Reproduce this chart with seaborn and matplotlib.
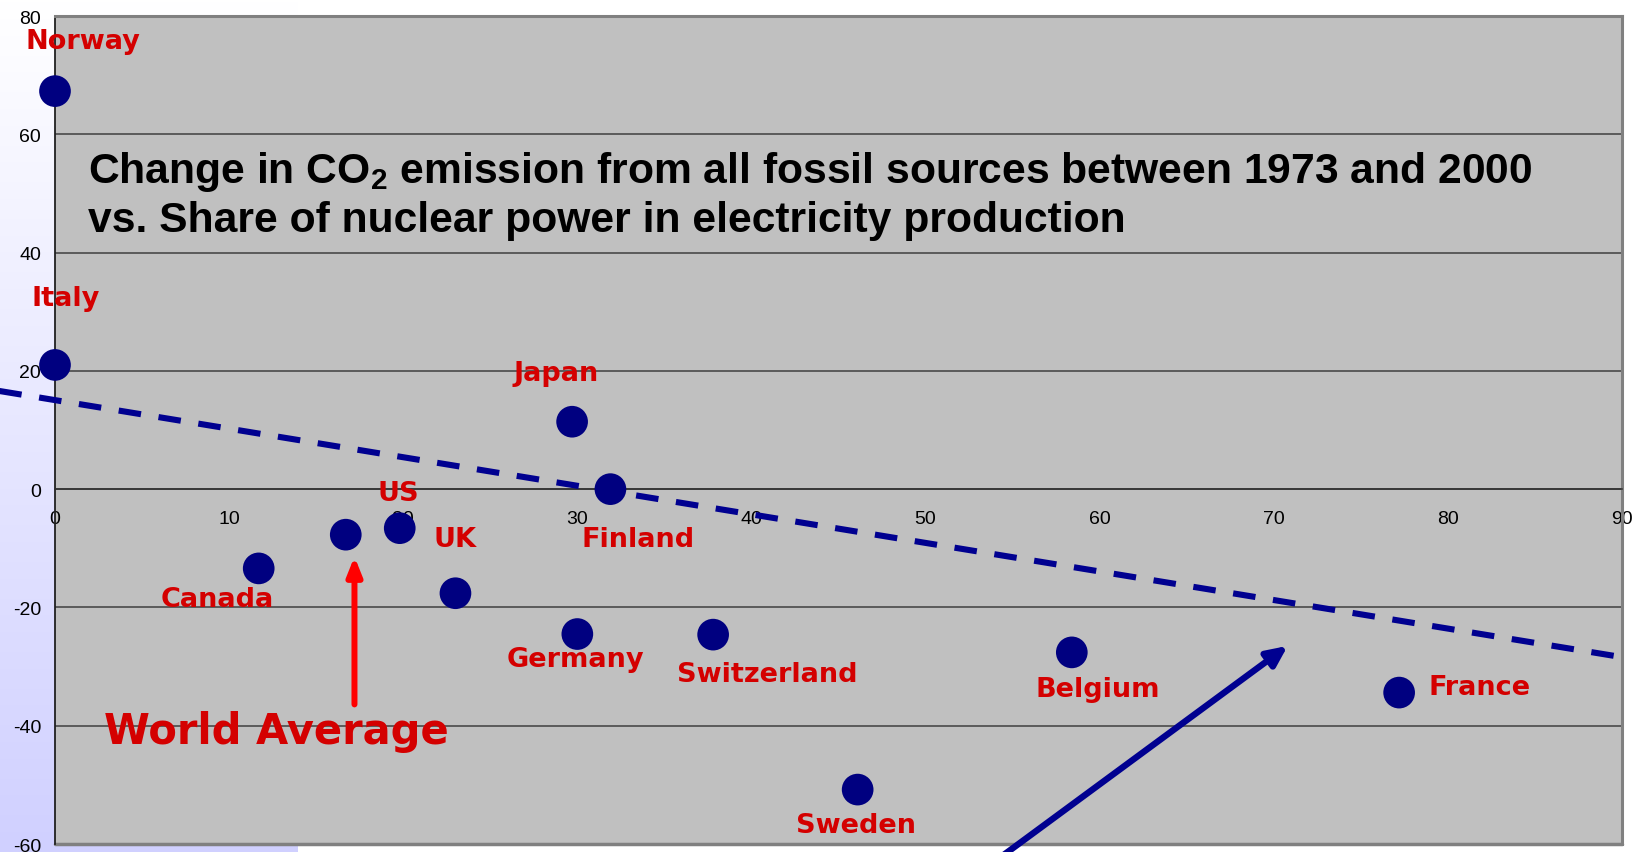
import numpy as np
import pandas as pd
import matplotlib
matplotlib.use("Agg")
import matplotlib.pyplot as plt
import seaborn as sns

# Share of nuclear power in electricity production (%) and change in CO2 emission 1973-2000 (%)
countries = ["Norway", "Italy", "Japan", "Finland", "Canada", "World Average", "US", "UK",
             "Germany", "Switzerland", "Belgium", "France", "Sweden"]
nuclear_share = [0.0, 0.0, 29.7, 31.9, 11.7, 16.7, 19.8, 23.0, 30.0, 37.8, 58.4, 77.2, 46.1]
co2_change = [67.3, 21.0, 11.4, 0.0, -13.4, -7.7, -6.6, -17.6, -24.5, -24.6, -27.6, -34.4, -50.8]

# Hand-drawn trend line end points
trend_x = [-3.2, 90.4]
trend_y = [16.6, -28.6]

x_ticks = [0, 10, 20, 30, 40, 50, 60, 70, 80, 90]
y_ticks = [-60, -40, -20, 0, 20, 40, 60, 80]

title_line1 = r"Change in CO$_\mathbf{2}$ emission from all fossil sources between 1973 and 2000"
title_line2 = "vs. Share of nuclear power in electricity production"

# Label placement relative to each point (data units)
label_offset = {
    "Norway": (1.6, 8.5), "Italy": (0.6, 11.4), "Japan": (-0.9, 8.2),
    "Finland": (1.6, -8.4), "Canada": (-2.4, -5.1), "US": (-0.1, 6.0),
    "UK": (0.0, 9.2), "Germany": (-0.1, -4.2), "Switzerland": (3.1, -6.6),
    "Belgium": (1.5, -6.2), "France": (4.6, 0.9), "Sweden": (-0.1, -6.0),
    "World Average": (-4.0, -33.2),
}

sns.set_style("white")
plt.rcParams["font.family"] = ["Liberation Sans", "DejaVu Sans"]
plt.rcParams["axes.unicode_minus"] = False
plt.rcParams["mathtext.fontset"] = "custom"
plt.rcParams["mathtext.rm"] = "Liberation Sans"
plt.rcParams["mathtext.bf"] = "Liberation Sans:bold"

W, H = 1637, 853
fig = plt.figure(figsize=(W / 100, H / 100), dpi=100)
fig.patch.set_facecolor("white")

# Slide background: lavender gradient band on the left
bg = fig.add_axes([0, 0, 298 / W, 1], zorder=0)
t = np.linspace(0, 1, 256)[:, None]
top = np.array([255, 255, 255]) / 255
bot = np.array([208, 208, 255]) / 255
grad = (top[None, None, :] * (1 - t[..., None]) + bot[None, None, :] * t[..., None])
grad = np.repeat(grad, 2, axis=1)
bg.imshow(grad, aspect="auto", extent=[0, 1, 0, 1])
bg.axis("off")

ax = fig.add_axes([55 / W, 1 - 845 / H, (1622 - 55) / W, (845 - 17) / H], zorder=1)
ax.set_facecolor("#C0C0C0")

df = pd.DataFrame({"country": countries, "nuclear": nuclear_share, "co2": co2_change})

# Trend line
sns.lineplot(x=trend_x, y=trend_y, ax=ax, color="#000090", lw=4.4,
             linestyle=(0, (3.7, 2.9)), clip_on=False, zorder=3)

# Country points
sns.scatterplot(data=df, x="nuclear", y="co2", ax=ax, s=520, color="#000080",
                edgecolor="none", clip_on=False, zorder=4, legend=False)

for c, xv, yv in zip(countries, nuclear_share, co2_change):
    dx, dy = label_offset[c]
    big = c == "World Average"
    ax.text(xv + dx, yv + dy, c, ha="center", va="center",
            fontsize=30 if big else 19.5, fontweight="bold",
            family="DejaVu Sans", color="#D40000", zorder=5, clip_on=False)

# Arrow from the World Average label up to its point
wa = countries.index("World Average")
ax.annotate("", xy=(nuclear_share[wa] + 0.5, co2_change[wa] - 3.7),
            xytext=(nuclear_share[wa] + 0.5, -36.4),
            arrowprops=dict(arrowstyle="-|>,head_length=0.55,head_width=0.22",
                            mutation_scale=20, lw=4.3, color="#FF0000",
                            shrinkA=0, shrinkB=0),
            zorder=5)

# Arrow pointing at the trend line
ax.annotate("", xy=(70.8, -26.5), xytext=(53.4, -64.2),
            arrowprops=dict(arrowstyle="-|>,head_length=0.6,head_width=0.28",
                            mutation_scale=20, lw=4.6, color="#000090",
                            shrinkA=0, shrinkB=0),
            annotation_clip=False, zorder=5)

ax.set_xlim(0, 90)
ax.set_ylim(-60, 80)
ax.set_xticks(x_ticks)
ax.set_yticks(y_ticks)
ax.set_xticklabels([str(v) for v in x_ticks])
ax.set_yticklabels([str(v) for v in y_ticks])
ax.set_xlabel("")
ax.set_ylabel("")

ax.yaxis.grid(True, color="#404040", lw=1.1)
ax.xaxis.grid(False)
ax.set_axisbelow(True)

ax.spines["bottom"].set_position(("data", 0))
ax.spines["bottom"].set_color("#303030")
ax.spines["bottom"].set_linewidth(1.1)
ax.spines["left"].set_color("#202020")
ax.spines["left"].set_linewidth(1.3)
for s in ("top", "right"):
    ax.spines[s].set_color("#808080")
    ax.spines[s].set_linewidth(2.2)
ax.axhline(-60, color="#808080", lw=2.5, clip_on=False, zorder=2)

ax.tick_params(axis="x", direction="out", length=5, width=1, color="#303030",
               pad=10, labelsize=14, labelcolor="black")
ax.tick_params(axis="y", direction="out", length=5, width=1, color="#303030",
               pad=5, labelsize=14, labelcolor="black")

fig.text(87.7 / W, 1 - 183 / H, title_line1, fontsize=30.7, fontweight="bold",
         color="black", ha="left", va="baseline", zorder=6)
fig.text(87.7 / W, 1 - 232 / H, title_line2, fontsize=30.7, fontweight="bold",
         color="black", ha="left", va="baseline", zorder=6)

fig.savefig("out.png", dpi=100)
